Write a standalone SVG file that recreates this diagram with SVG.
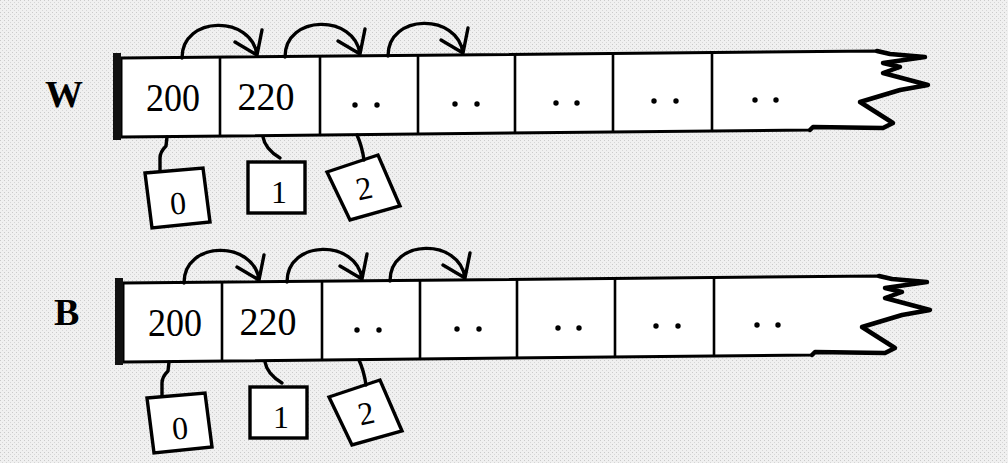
<svg xmlns="http://www.w3.org/2000/svg" width="1008" height="463" viewBox="0 0 1008 463">
<style>
.strip{fill:#fff;stroke:#000;stroke-width:3;stroke-linejoin:round}
.jag{fill:none;stroke:#000;stroke-width:4.5;stroke-linejoin:round;stroke-linecap:round}
.div{stroke:#000;stroke-width:2.6;fill:none}
.bar{fill:#111}
.num{font-family:"Liberation Serif","Times New Roman",serif;font-size:41px;fill:#000;text-anchor:middle}
.idx{font-family:"Liberation Serif","Times New Roman",serif;font-size:32px;fill:#000;text-anchor:middle}
.lbl{font-family:"Liberation Serif","Times New Roman",serif;font-size:38px;font-weight:bold;fill:#000}
.box{fill:#fff;stroke:#000;stroke-width:3.4;stroke-linejoin:miter}
.arc{fill:none;stroke:#000;stroke-width:3.4;stroke-linecap:round;stroke-linejoin:round}
.dot{fill:#000}
</style>
<defs>
<pattern id="stip" width="4" height="4" patternUnits="userSpaceOnUse">
<rect width="4" height="4" fill="#f0f0f0"/>
<rect x="0" y="0" width="1" height="1" fill="#cacaca"/>
<rect x="2" y="2" width="1" height="1" fill="#d6d6d6"/>
</pattern>
<g id="stripShape">
<path class="strip" d="M121,58 L877,51 L890,54 L925,57 L883,63 L900,67 L883,73 L928,85 L900,90 L890,93 L860,102 L893,123 L883,128 L813,127 L810,130 L121,137 Z"/>
<path class="jag" d="M877,51 L890,54 L925,57 L883,63 L900,67 L883,73 L928,85 L900,90 L890,93 L860,102 L893,123 L883,128 L813,127 L810,130"/>
<path class="div" d="M220,57 V136 M320,56 V135 M418,55 V134 M515,54 V133 M613,53 V132 M712,52 V131"/>
<rect class="bar" x="113" y="53" width="8" height="87"/>
<text class="num" x="173" y="111" textLength="54" lengthAdjust="spacingAndGlyphs">200</text>
<text class="num" x="266" y="110" textLength="57" lengthAdjust="spacingAndGlyphs">220</text>
<circle class="dot" cx="355" cy="105" r="2.7"/><circle class="dot" cx="377" cy="105" r="2.7"/>
<circle class="dot" cx="455" cy="104" r="2.7"/><circle class="dot" cx="477" cy="104" r="2.7"/>
<circle class="dot" cx="556" cy="103" r="2.7"/><circle class="dot" cx="577" cy="103" r="2.7"/>
<circle class="dot" cx="654" cy="101" r="2.7"/><circle class="dot" cx="676" cy="101" r="2.7"/>
<circle class="dot" cx="755" cy="100" r="2.7"/><circle class="dot" cx="776" cy="100" r="2.7"/>
</g>
<g id="box0Shape">
<polygon class="box" points="145,173 203,168 210,222 152,228"/>
<text class="idx" x="178" y="214" transform="rotate(-5 178 203)">0</text>
</g>
<g id="box1Shape">
<rect class="box" x="248" y="162" width="57" height="51"/>
<text class="idx" x="279" y="203">1</text>
</g>
<g id="box2Shape">
<polygon class="box" points="327,172 378,155 400,206 350,220"/>
<text class="idx" x="364" y="199" transform="rotate(-12 364 188)">2</text>
</g>
<g id="linksShape">
<path class="arc" d="M182,58 C182,15 252,15 257,55 M235,42 L257,55 L262,30"/>
<path class="arc" d="M285,57 C285,14 355,14 360,54 M338,41 L360,54 L365,29"/>
<path class="arc" d="M388,56 C388,13 458,13 463,53 M441,40 L463,53 L468,28"/>
<path class="arc" d="M167,137 L166,146 Q160,152 160,158 L160,171"/>
<path class="arc" d="M263,137 Q265,149 280,158"/>
<path class="arc" d="M357,135 Q362,146 364,160"/>
</g>
</defs>
<rect width="1008" height="463" fill="url(#stip)"/>
<g id="label-W"><text class="lbl" x="45" y="107">W</text></g>
<g id="label-B"><text class="lbl" x="54" y="325">B</text></g>
<g id="array-W"><use href="#stripShape"/></g>
<g id="array-B" transform="translate(2,225)"><use href="#stripShape"/></g>
<g id="W-index-0"><use href="#box0Shape"/></g>
<g id="W-index-1"><use href="#box1Shape"/></g>
<g id="W-index-2"><use href="#box2Shape"/></g>
<g id="B-index-0" transform="translate(2,225)"><use href="#box0Shape"/></g>
<g id="B-index-1" transform="translate(2,225)"><use href="#box1Shape"/></g>
<g id="B-index-2" transform="translate(2,225)"><use href="#box2Shape"/></g>
<g id="connectors">
<g id="W-links"><use href="#linksShape"/></g>
<g id="B-links" transform="translate(2,225)"><use href="#linksShape"/></g>
</g>
</svg>
